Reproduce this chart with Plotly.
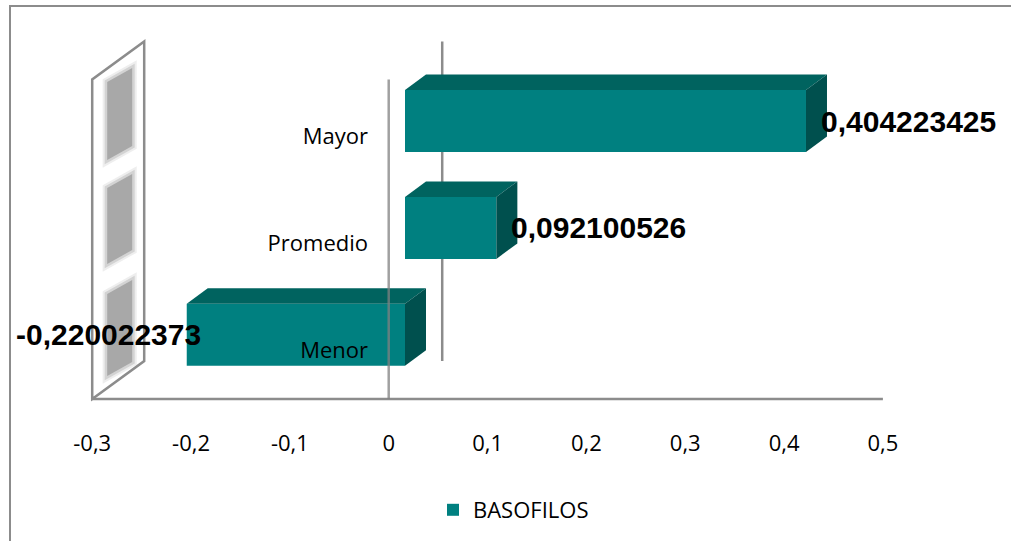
import plotly.graph_objects as go

# ---- data ----
categories = ["Menor", "Promedio", "Mayor"]
basofilos = [-0.220022373, 0.092100526, 0.404223425]
tick_values = [-0.3, -0.2, -0.1, 0, 0.1, 0.2, 0.3, 0.4, 0.5]
tick_labels = ["-0,3", "-0,2", "-0,1", "0", "0,1", "0,2", "0,3", "0,4", "0,5"]
series_name = "BASOFILOS"

# ---- page geometry (pixels) ----
W, H = 1011, 541
X_RANGE = [-0.3, 0.5]

# front plane of the 3D box (value axis labels, floor, walls)
AX_LEFT_PX, AX_RIGHT_PX = 92.2, 882.9
# plane where the bar front faces sit
BAR_ZERO_PX, BAR_SCALE = 405.0, 992.0
BAR_LEFT_PX = BAR_ZERO_PX + X_RANGE[0] * BAR_SCALE
BAR_RIGHT_PX = BAR_ZERO_PX + X_RANGE[1] * BAR_SCALE

# vertical layout of the categories
Y_UNIT_PX = 106.9
Y0_PX = 334.8
Y_TOP_PX, Y_BOT_PX = 35.0, 428.0
Y_RANGE = [-(Y_BOT_PX - Y0_PX) / Y_UNIT_PX, (Y0_PX - Y_TOP_PX) / Y_UNIT_PX]

# 3D depth of the bars and of the box
BAR_DEPTH_PX = (21.0, 15.5)
BOX_DEPTH_PX = (53.5, 38.0)
FLOOR_PX, TOP_PX = 399.0, 79.5

BAR_WIDTH = 0.58
FRONT = "#008080"
TOP = "#00635f"
SIDE = "#00504e"
FRAME = "#8c8c8c"

ax_scale = (AX_RIGHT_PX - AX_LEFT_PX) / (X_RANGE[1] - X_RANGE[0])
AX_ZERO_PX = AX_LEFT_PX - X_RANGE[0] * ax_scale


def px(x, y):
    return x / W, 1 - y / H


def paper_path(points):
    parts = []
    for i, (x, y) in enumerate(points):
        u, v = px(x, y)
        parts.append(("M" if i == 0 else "L") + f"{u:.5f},{v:.5f}")
    return " ".join(parts) + " Z"


def data_path(points):
    parts = []
    for i, (x, y) in enumerate(points):
        parts.append(("M" if i == 0 else "L") + f"{x:.6f},{y:.6f}")
    return " ".join(parts) + " Z"


fig = go.Figure()

# bar front faces
fig.add_trace(go.Bar(
    y=list(range(len(categories))),
    x=basofilos,
    orientation="h",
    width=BAR_WIDTH,
    marker=dict(color=FRONT, line=dict(width=0)),
    name=series_name,
    hoverinfo="skip",
))

# carrier trace for the front value axis
fig.add_trace(go.Scatter(x=[], y=[], xaxis="x2", yaxis="y",
                         showlegend=False, hoverinfo="skip"))

shapes = []

# outer chart border
shapes.append(dict(type="rect", xref="paper", yref="paper",
                   x0=10 / W, y0=-0.1, x1=1.1, y1=1 - 6 / H,
                   line=dict(color=FRAME, width=2), layer="below"))

# side wall of the box with its soft gray panels
wx0, wx1 = AX_LEFT_PX, AX_LEFT_PX + 52
wall = [(wx0, FLOOR_PX), (wx0, TOP_PX), (wx1, TOP_PX - BOX_DEPTH_PX[1]),
        (wx1, FLOOR_PX - BOX_DEPTH_PX[1])]
shapes.append(dict(type="path", xref="paper", yref="paper", path=paper_path(wall),
                   fillcolor="white", line=dict(color=FRAME, width=2.5), layer="below"))
panel_x0, panel_x1 = wx0 + 15, wx0 + 40
for top_left, bot_left in [(82, 160), (188, 264), (294, 376)]:
    slope = 14
    panel = [(panel_x0, bot_left), (panel_x0, top_left),
             (panel_x1, top_left - slope), (panel_x1, bot_left - slope)]
    # soft halo, then the solid panel
    for width, alpha in [(9, 0.18), (5, 0.35)]:
        shapes.append(dict(type="path", xref="paper", yref="paper", path=paper_path(panel),
                           fillcolor="rgba(0,0,0,0)",
                           line=dict(color=f"rgba(160,160,160,{alpha})", width=width),
                           layer="below"))
    shapes.append(dict(type="path", xref="paper", yref="paper", path=paper_path(panel),
                       fillcolor="#a8a8a8", line=dict(width=0), layer="below"))

# floor edge
shapes.append(dict(type="line", xref="paper", yref="paper",
                   x0=AX_LEFT_PX / W, x1=AX_RIGHT_PX / W,
                   y0=1 - FLOOR_PX / H, y1=1 - FLOOR_PX / H,
                   line=dict(color=FRAME, width=2.5), layer="below"))

# zero line on the back plane
bx = AX_ZERO_PX + BOX_DEPTH_PX[0]
shapes.append(dict(type="line", xref="paper", yref="paper",
                   x0=bx / W, x1=bx / W,
                   y0=1 - (FLOOR_PX - BOX_DEPTH_PX[1]) / H,
                   y1=1 - (TOP_PX - BOX_DEPTH_PX[1]) / H,
                   line=dict(color=FRAME, width=2.5), layer="below"))

# top and side faces of each bar
ddx = BAR_DEPTH_PX[0] / BAR_SCALE
ddy = BAR_DEPTH_PX[1] / Y_UNIT_PX
h = BAR_WIDTH / 2
for i, v in enumerate(basofilos):
    lo, hi = min(v, 0), max(v, 0)
    top = [(lo, i + h), (lo + ddx, i + h + ddy), (hi + ddx, i + h + ddy), (hi, i + h)]
    side = [(hi, i - h), (hi, i + h), (hi + ddx, i + h + ddy), (hi + ddx, i - h + ddy)]
    shapes.append(dict(type="path", xref="x", yref="y", path=data_path(top),
                       fillcolor=TOP, line=dict(width=0), layer="above"))
    shapes.append(dict(type="path", xref="x", yref="y", path=data_path(side),
                       fillcolor=SIDE, line=dict(width=0), layer="above"))

# zero line on the front plane
shapes.append(dict(type="line", xref="paper", yref="paper",
                   x0=AX_ZERO_PX / W, x1=AX_ZERO_PX / W,
                   y0=1 - FLOOR_PX / H, y1=1 - TOP_PX / H,
                   line=dict(color="rgba(128,128,128,0.75)", width=2.5), layer="above"))

# value labels
annotations = []
for i, v in enumerate(basofilos):
    text = f"{v:.9f}".replace(".", ",")
    annotations.append(dict(
        x=v, y=i, xref="x", yref="y", text=text, showarrow=False,
        xanchor="left" if v >= 0 else "right",
        xshift=13 if v >= 0 else 16, yshift=0,
        font=dict(family="Liberation Sans, Arial", size=30, color="black", weight="bold"),
    ))

fig.update_layout(
    width=W, height=H,
    margin=dict(l=0, r=0, t=0, b=0, autoexpand=False),
    paper_bgcolor="white",
    plot_bgcolor="rgba(0,0,0,0)",
    shapes=shapes,
    annotations=annotations,
    barmode="overlay",
    font=dict(family="Open Sans", size=22, color="black"),
    xaxis=dict(domain=[BAR_LEFT_PX / W, BAR_RIGHT_PX / W], range=X_RANGE,
               anchor="y", visible=False, fixedrange=True),
    xaxis2=dict(domain=[AX_LEFT_PX / W, AX_RIGHT_PX / W], range=X_RANGE,
                anchor="y", side="bottom", tickvals=tick_values, ticktext=tick_labels,
                showgrid=False, zeroline=False, showline=False, ticks="",
                tickfont=dict(family="Open Sans", size=22, color="black"),
                fixedrange=True),
    yaxis=dict(domain=[1 - Y_BOT_PX / H, 1 - Y_TOP_PX / H], range=Y_RANGE,
               anchor="free", position=368 / W,
               tickvals=list(range(len(categories))), ticktext=categories,
               ticklabelshift=15, ticklabelstandoff=0,
               showgrid=False, zeroline=False, showline=False, ticks="",
               tickfont=dict(family="Open Sans", size=22, color="black"),
               fixedrange=True),
    showlegend=True,
    legend=dict(orientation="h", x=433 / W, xanchor="left",
                y=1 - 510 / H, yanchor="middle",
                font=dict(family="Open Sans", size=22, color="black"),
                bgcolor="rgba(0,0,0,0)"),
)

fig.write_html("out.html")
